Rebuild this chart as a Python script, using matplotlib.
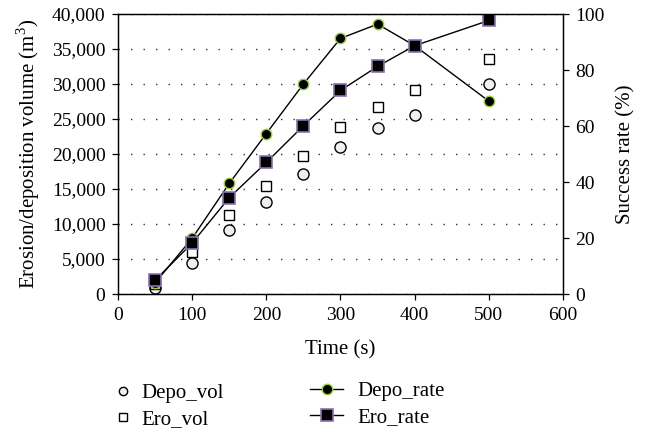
import matplotlib
matplotlib.use("Agg")
import matplotlib.pyplot as plt
from matplotlib.ticker import FuncFormatter, MultipleLocator

time_s = [50, 100, 150, 200, 250, 300, 350, 400, 500]
depo_vol = [800, 4470, 9090, 13140, 17190, 20940, 23760, 25520, 30040]
ero_vol = [1500, 5940, 11330, 15470, 19760, 23900, 26710, 29140, 33610]
depo_rate = [4, 19.9, 39.5, 57.3, 75, 91.3, 96.4, 88.7, 68.9]
ero_rate = [4.9, 18.2, 34.4, 47, 60.1, 72.7, 81.3, 88.7, 97.7]

plt.rcParams['font.family'] = ['Liberation Serif', 'DejaVu Serif']
plt.rcParams['mathtext.fontset'] = 'custom'
plt.rcParams['mathtext.rm'] = 'Liberation Serif'

fig = plt.figure(figsize=(6.49, 4.32), dpi=100)
ax = fig.add_axes([0.1818, 0.3194, 0.6857, 0.6481])
ax2 = ax.twinx()

ax.set_xlim(0, 600)
ax.set_ylim(0, 40000)
ax2.set_ylim(0, 100)
ax.xaxis.set_major_locator(MultipleLocator(100))
ax.yaxis.set_major_locator(MultipleLocator(5000))
ax2.yaxis.set_major_locator(MultipleLocator(20))
ax.yaxis.set_major_formatter(FuncFormatter(lambda v, p: f"{int(v):,}"))
ax.grid(axis='y', linestyle=(0, (1, 8)), color='#333333', linewidth=1.0)
ax.set_axisbelow(True)

for a in (ax, ax2):
    a.tick_params(direction='out', length=4, width=0.9, labelsize=14, pad=5)
    for s in a.spines.values():
        s.set_linewidth(0.9)

h1, = ax.plot(time_s, depo_vol, linestyle='none', marker='o', markersize=8,
              markerfacecolor='#f0f0f0', markeredgecolor='black', markeredgewidth=1.0,
              label='Depo_vol')
h2, = ax.plot(time_s, ero_vol, linestyle='none', marker='s', markersize=6.8,
              markerfacecolor='white', markeredgecolor='black', markeredgewidth=1.0,
              label='Ero_vol')
h3, = ax2.plot(time_s, depo_rate, color='black', linewidth=1.0, marker='o', markersize=7.5,
               markerfacecolor='black', markeredgecolor='#9acd32', markeredgewidth=1.0,
               label='Depo_rate')
h4, = ax2.plot(time_s, ero_rate, color='black', linewidth=1.0, marker='s', markersize=8,
               markerfacecolor='black', markeredgecolor='#8a70b0', markeredgewidth=1.2,
               label='Ero_rate')

ax.set_xlabel('Time (s)', fontsize=15, labelpad=12)
ax.set_ylabel('Erosion/deposition volume (m$^3$)', fontsize=15, labelpad=7)
ax2.set_ylabel('Success rate (%)', fontsize=15, labelpad=8)

leg1 = fig.legend(handles=[h1, h2], loc='upper left', bbox_to_anchor=(0.160, 0.131),
                  borderaxespad=0, frameon=False, fontsize=15, handlelength=1.0,
                  handletextpad=0.4, labelspacing=0.3, markerscale=0.75)
leg2 = fig.legend(handles=[h3, h4], loc='upper left', bbox_to_anchor=(0.465, 0.136),
                  borderaxespad=0, frameon=False, fontsize=15, handlelength=1.6,
                  handletextpad=0.65, labelspacing=0.3, markerscale=1.0)

fig.savefig('out.png', dpi=100)
